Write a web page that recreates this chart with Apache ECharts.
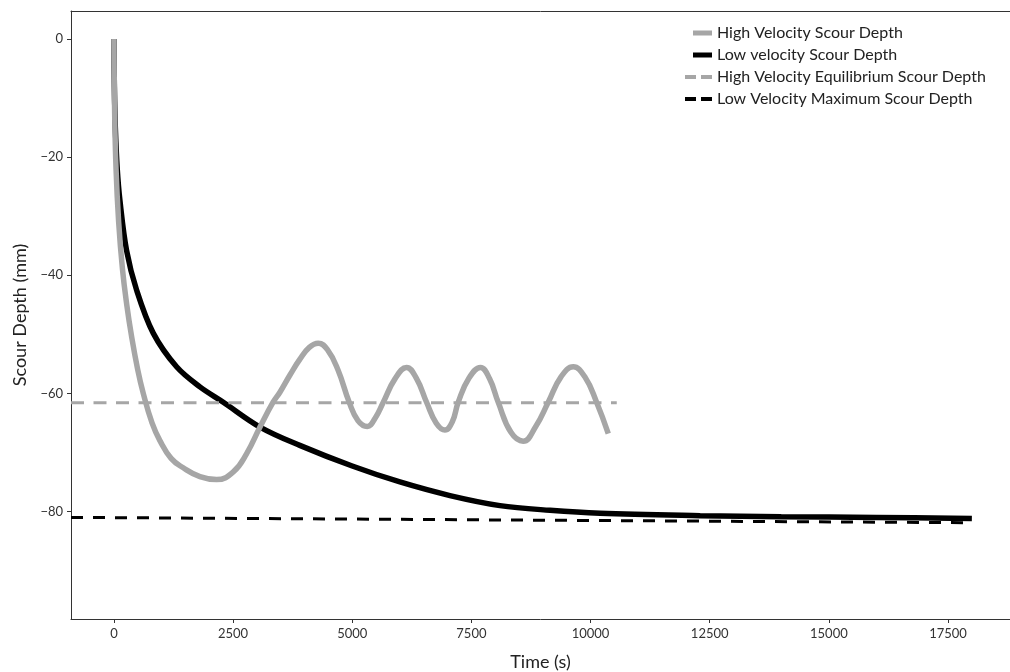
<!DOCTYPE html>
<html>
<head>
<meta charset="utf-8">
<script src="https://cdn.jsdelivr.net/npm/echarts@6/dist/echarts.min.js"></script>
<style>
  html, body { margin: 0; padding: 0; background: #fff; }
  #chart { width: 1010px; height: 672px; }
</style>
</head>
<body>
<div id="chart"></div>
<script>
// data: [time (s), scour depth (mm)]
var highVelocity = [
    [0, 0], [15, -12], [45, -22], [100, -31], [180, -39], [270, -45], [370, -50.3],
    [500, -56], [616, -60], [800, -65], [965, -68], [1200, -71], [1455, -72.6],
    [1805, -74.1], [2155, -74.6], [2505, -73.3], [2785, -70.2], [3065, -65.7],
    [3340, -61.5], [3483, -59.8], [3700, -56.8], [3903, -54.2],
    [4100, -52.2], [4287, -51.5], [4480, -52.6], [4700, -56], [4937, -61.5],
    [5120, -64.6], [5316, -65.6], [5480, -64.2], [5652, -61.5], [5900, -57.5],
    [6140, -55.6], [6350, -57.5], [6560, -61.5], [6760, -65], [6945, -66.2],
    [7100, -64.8], [7224, -61.5], [7450, -57.4], [7692, -55.6], [7880, -57.5],
    [8063, -61.5], [8330, -66.6], [8588, -68.1], [8850, -65.6], [9112, -61.5],
    [9380, -57.2], [9637, -55.5], [9880, -57.2], [10127, -61.5], [10372, -66.8]
];
var lowVelocity = [
    [0, 0], [10, -8], [30, -15], [70, -22], [126, -27.3], [266, -35.8], [476, -42.5],
    [825, -49.8], [1315, -55.5], [1805, -58.9], [2295, -61.5], [3065, -65.7],
    [3900, -68.8], [5000, -72.3], [6000, -75.0], [7050, -77.3], [8100, -79.0],
    [9150, -79.8], [10200, -80.3], [12300, -80.7], [14000, -80.9], [16000, -81.0],
    [18000, -81.2]
];
var highEquilibrium = [[-900, -61.6], [10550, -61.6]];
var lowMaximum = [[-900, -81.0], [18000, -81.9]];

var seriesNames = [
    'High Velocity Scour Depth',
    'Low velocity Scour Depth',
    'High Velocity Equilibrium Scour Depth',
    'Low Velocity Maximum Scour Depth'
];
var xTicks = [0, 2500, 5000, 7500, 10000, 12500, 15000, 17500];
var yTicks = [0, -20, -40, -60, -80];

var chart = echarts.init(document.getElementById('chart'));

function minusFmt(v) {
    return v < 0 ? '\u2212' + (-v) : String(v);
}

// legend handles: solid bar (shorter, with an invisible speck to keep the width) and two dashes
var solidIcon = 'path://M0,2.5L0.01,2.5L0.01,2.51Z M8,0L27,0L27,5L8,5Z';
var dashIcon = 'path://M0,0.5L11,0.5L11,4.5L0,4.5Z M16,0.5L27,0.5L27,4.5L16,4.5Z M0,0L0.01,0L0.01,0.01Z M0,5L0.01,5L0.01,4.99Z';

var option = {
    animation: false,
    backgroundColor: '#fff',
    textStyle: { fontFamily: 'Lato' },
    grid: { left: 71, top: 11, right: 0, bottom: 53, outerBoundsMode: 'none', containLabel: false },
    legend: {
        orient: 'vertical',
        left: 685, top: 25,
        padding: 0,
        itemWidth: 27, itemHeight: 5, itemGap: 6,
        data: [
            { name: seriesNames[0], icon: solidIcon },
            { name: seriesNames[1], icon: solidIcon },
            { name: seriesNames[2], icon: dashIcon },
            { name: seriesNames[3], icon: dashIcon }
        ],
        textStyle: { fontFamily: 'Lato', fontSize: 16, color: '#222' }
    },
    xAxis: [{
        type: 'value',
        min: -900, max: 18800,
        name: 'Time (s)',
        nameLocation: 'middle',
        nameGap: 34,
        nameTextStyle: { fontFamily: 'Lato', fontSize: 18, color: '#222' },
        splitLine: { show: false },
        axisLine: { show: true, onZero: false, lineStyle: { color: '#333', width: 1 } },
        axisTick: { show: true, length: 4, customValues: xTicks, lineStyle: { color: '#333' } },
        axisLabel: { customValues: xTicks, margin: 8, fontSize: 13, color: '#333', fontFamily: 'Lato', formatter: minusFmt }
    }, {
        // top spine only
        type: 'value',
        position: 'top',
        min: -900, max: 18800,
        splitLine: { show: false },
        axisLine: { show: true, onZero: false, lineStyle: { color: '#333', width: 1 } },
        axisTick: { show: false },
        axisLabel: { show: false }
    }],
    yAxis: {
        type: 'value',
        min: -98.2, max: 4.74,
        name: 'Scour Depth (mm)',
        nameLocation: 'middle',
        nameGap: 42,
        nameTextStyle: { fontFamily: 'Lato', fontSize: 18, color: '#222' },
        splitLine: { show: false },
        axisLine: { show: true, onZero: false, lineStyle: { color: '#333', width: 1 } },
        axisTick: { show: true, length: 4, customValues: yTicks, lineStyle: { color: '#333' } },
        axisLabel: { customValues: yTicks, margin: 8, fontSize: 13, color: '#333', fontFamily: 'Lato', formatter: minusFmt }
    },
    series: [
        {
            name: seriesNames[0],
            type: 'line',
            data: highVelocity,
            symbol: 'none',
            smooth: 0.45,
            z: 4,
            itemStyle: { color: '#a6a6a6' },
            lineStyle: { color: '#a6a6a6', width: 5.5 }
        },
        {
            name: seriesNames[1],
            type: 'line',
            data: lowVelocity,
            symbol: 'none',
            smooth: 0.35,
            z: 3,
            itemStyle: { color: '#000' },
            lineStyle: { color: '#000', width: 5.5 }
        },
        {
            name: seriesNames[2],
            type: 'line',
            data: highEquilibrium,
            symbol: 'none',
            z: 5,
            itemStyle: { color: '#a6a6a6' },
            lineStyle: { color: '#a6a6a6', width: 3, type: [13, 9.5] }
        },
        {
            name: seriesNames[3],
            type: 'line',
            data: lowMaximum,
            symbol: 'none',
            z: 5,
            itemStyle: { color: '#000' },
            lineStyle: { color: '#000', width: 3, type: [12, 10] }
        }
    ]
};
chart.setOption(option);
</script>
</body>
</html>
